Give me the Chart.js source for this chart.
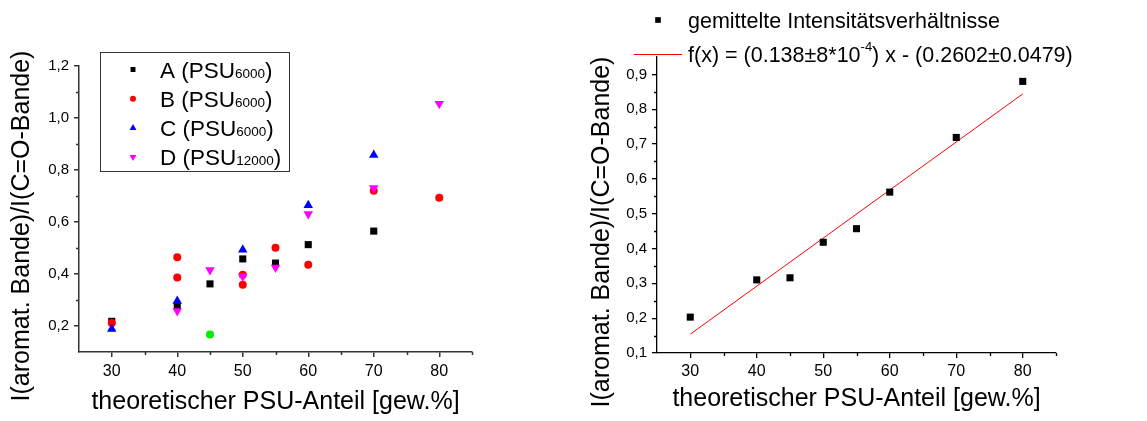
<!DOCTYPE html>
<html>
<head>
<meta charset="utf-8">
<script src="https://cdn.jsdelivr.net/npm/chart.js@4.4.1/dist/chart.umd.min.js"></script>
<style>
  html, body { margin: 0; padding: 0; background: #fff; }
  #wrap { position: relative; width: 1147px; height: 421px; }
  canvas { position: absolute; top: 0; }
  #chartLeft { left: 0; }
  #chartRight { left: 560px; }
</style>
</head>
<body>
<div id="wrap">
  <canvas id="chartLeft" width="560" height="421"></canvas>
  <canvas id="chartRight" width="587" height="421"></canvas>
</div>
<script>
const FONT = '"Liberation Sans", Arial, sans-serif';

// Achsen
const xTicks = [30, 40, 50, 60, 70, 80];
const xMinor = [35, 45, 55, 65, 75, 85];
const yTicksLeft = [0.2, 0.4, 0.6, 0.8, 1.0, 1.2];
const yMinorLeft = [0.3, 0.5, 0.7, 0.9, 1.1];
const yTicksRight = [0.1, 0.2, 0.3, 0.4, 0.5, 0.6, 0.7, 0.8, 0.9];
const yMinorRight = [0.15, 0.25, 0.35, 0.45, 0.55, 0.65, 0.75, 0.85];

const xTitle = 'theoretischer PSU-Anteil [gew.%]';
const yTitle = 'I(aromat. Bande)/I(C=O-Bande)';

// Linkes Diagramm: Einzelwerte
const seriesNames = ['A', 'B', 'C', 'D'];
const seriesSub = ['6000', '6000', '6000', '12000'];

const xA = [30, 40, 45, 50, 55, 60, 70];
const yA = [0.218, 0.278, 0.362, 0.458, 0.442, 0.513, 0.565];
const xB = [30, 40, 40, 50, 50, 55, 60, 70, 80];
const yB = [0.212, 0.464, 0.387, 0.397, 0.359, 0.501, 0.436, 0.720, 0.693];
const xC = [30, 40, 50, 60, 70];
const yC = [0.188, 0.296, 0.493, 0.664, 0.858];
const xD = [40, 45, 50, 55, 60, 70, 80];
const yD = [0.258, 0.415, 0.390, 0.425, 0.631, 0.731, 1.055];
const xExtra = [45];
const yExtra = [0.167];

// Rechtes Diagramm: Mittelwerte + Fit
const xMean = [30, 40, 45, 50, 55, 60, 70, 80];
const yMean = [0.203, 0.310, 0.316, 0.418, 0.457, 0.562, 0.719, 0.880];
const xFit = [30, 80];
const yFit = [0.154, 0.844];

const meanLabel = 'gemittelte Intensitätsverhältnisse';
const fitParts = ['f(x) = (0.138±8*10', '-4', ') x - (0.2602±0.0479)'];

const pts = (xs, ys) => xs.map((x, i) => ({ x: x, y: ys[i] }));
const comma = v => Number(v).toFixed(1).replace('.', ',');

// kleine Zwischenstriche an den Achsen
const minorTicks = {
  id: 'minorTicks',
  afterDraw(chart, args, o) {
    const { ctx, scales: { x, y } } = chart;
    ctx.save();
    ctx.strokeStyle = o.color;
    ctx.lineWidth = o.width;
    ctx.beginPath();
    o.x.forEach(v => {
      const px = Math.round(x.getPixelForValue(v)) + 0.5;
      ctx.moveTo(px, y.bottom);
      ctx.lineTo(px, y.bottom + o.len);
    });
    o.y.forEach(v => {
      const py = Math.round(y.getPixelForValue(v)) + 0.5;
      ctx.moveTo(x.left, py);
      ctx.lineTo(x.left - o.len, py);
    });
    ctx.stroke();
    ctx.restore();
  }
};

// Achsentitel
const axisTitles = {
  id: 'axisTitles',
  afterDraw(chart, args, o) {
    const { ctx, chartArea: a } = chart;
    ctx.save();
    ctx.fillStyle = '#000';
    ctx.font = o.size + 'px ' + FONT;
    ctx.textAlign = 'center';
    ctx.textBaseline = 'middle';
    ctx.fillText(xTitle, (a.left + a.right) / 2, o.xPos);
    ctx.translate(o.yPos, o.yCenter);
    ctx.rotate(-Math.PI / 2);
    ctx.fillText(yTitle, 0, 0);
    ctx.restore();
  }
};

function drawParts(ctx, parts, x, y) {
  parts.forEach(p => {
    ctx.font = p.size + 'px ' + FONT;
    ctx.fillText(p.t, x, y + (p.dy || 0));
    x += ctx.measureText(p.t).width;
  });
}

function drawMarker(ctx, ds, r, x, y) {
  ctx.fillStyle = ds.backgroundColor;
  Chart.helpers.drawPoint(ctx, {
    pointStyle: ds.pointStyle, rotation: ds.rotation || 0, radius: r, borderWidth: 0
  }, x, y);
}

// Legende links (mit Index)
const legendLeft = {
  id: 'legendLeft',
  afterDraw(chart, args, o) {
    const ctx = chart.ctx;
    ctx.save();
    ctx.strokeStyle = '#333';
    ctx.lineWidth = 1;
    ctx.strokeRect(o.left + 0.5, o.top + 0.5, o.width, o.height);
    seriesNames.forEach((name, i) => {
      const cy = o.top + o.first + i * o.step;
      const ds = chart.data.datasets[i];
      drawMarker(ctx, ds, o.marker[i], o.left + o.markerX, cy);
      ctx.fillStyle = '#000';
      ctx.textAlign = 'left';
      ctx.textBaseline = 'alphabetic';
      drawParts(ctx, [
        { t: name + ' (PSU', size: o.size },
        { t: seriesSub[i], size: o.subSize },
        { t: ')', size: o.size }
      ], o.left + o.textX, cy + o.base);
    });
    ctx.restore();
  }
};

// Legende rechts
const legendRight = {
  id: 'legendRight',
  afterDraw(chart, args, o) {
    const ctx = chart.ctx;
    ctx.save();
    drawMarker(ctx, chart.data.datasets[0], 4, o.markerX, o.row1);
    ctx.strokeStyle = chart.data.datasets[1].borderColor;
    ctx.lineWidth = 1;
    ctx.beginPath();
    ctx.moveTo(o.lineFrom, o.row2 + 0.5);
    ctx.lineTo(o.lineTo, o.row2 + 0.5);
    ctx.stroke();
    ctx.fillStyle = '#000';
    ctx.textAlign = 'left';
    ctx.textBaseline = 'alphabetic';
    drawParts(ctx, [{ t: meanLabel, size: o.size }], o.textX, o.row1 + o.base);
    drawParts(ctx, [
      { t: fitParts[0], size: o.size },
      { t: fitParts[1], size: o.supSize, dy: -11 },
      { t: fitParts[2], size: o.size }
    ], o.textX, o.row2 + o.base);
    ctx.restore();
  }
};

function xScale(color, width, pad, height) {
  return {
    type: 'linear', min: 25, max: 85,
    afterBuildTicks: s => { s.ticks = xTicks.map(v => ({ value: v })); },
    afterFit: s => { s.height = height; },
    grid: { drawOnChartArea: false, drawTicks: true, tickLength: 5, color: color, lineWidth: width },
    border: { display: true, color: color, width: width },
    ticks: { color: '#000', font: { family: FONT, size: 16 }, padding: pad, maxRotation: 0, autoSkip: false }
  };
}

function yScale(min, max, ticks, color, width, w, size) {
  return {
    type: 'linear', min: min, max: max,
    afterBuildTicks: s => { s.ticks = ticks.map(v => ({ value: v })); },
    afterFit: s => { s.width = w; },
    grid: { drawOnChartArea: false, drawTicks: true, tickLength: 5, color: color, lineWidth: width },
    border: { display: true, color: color, width: width },
    ticks: { color: '#000', font: { family: FONT, size: size }, padding: 5, autoSkip: false, callback: comma }
  };
}

const leftAxis = '#333';

new Chart(document.getElementById('chartLeft'), {
  type: 'scatter',
  data: {
    datasets: [
      { data: pts(xA, yA), backgroundColor: '#000000', pointStyle: 'rect', pointRadius: 5, order: 5 },
      { data: pts(xB, yB), backgroundColor: '#ff0000', pointStyle: 'circle', pointRadius: 4, order: 4 },
      { data: pts(xC, yC), backgroundColor: '#0000ff', pointStyle: 'triangle', pointRadius: 5.5, order: 3 },
      { data: pts(xD, yD), backgroundColor: '#ff00ff', pointStyle: 'triangle', rotation: 180, pointRadius: 5.5, order: 2 },
      { data: pts(xExtra, yExtra), backgroundColor: '#00ee00', pointStyle: 'circle', pointRadius: 4, order: 1 }
    ].map(d => Object.assign({ pointBorderWidth: 0, pointRotation: d.rotation || 0 }, d))
  },
  options: {
    responsive: false,
    animation: false,
    layout: { padding: { left: 0, top: 66, right: 88, bottom: 0 } },
    scales: {
      x: xScale(leftAxis, 1.5, 5, 69),
      y: yScale(0.1, 1.2, yTicksLeft, leftAxis, 1.5, 79, 15)
    },
    plugins: {
      legend: { display: false },
      tooltip: { enabled: false },
      minorTicks: { x: xMinor, y: yMinorLeft, len: 3, color: leftAxis, width: 1.5 },
      axisTitles: { size: 25, xPos: 402, yPos: 22, yCenter: 226 },
      legendLeft: {
        left: 100, top: 52, width: 189, height: 119, first: 17.5, step: 29.2,
        markerX: 33, textX: 60, base: 8, size: 22.5, subSize: 13.5, marker: [3.5, 3, 4, 4]
      }
    }
  },
  plugins: [minorTicks, axisTitles, legendLeft]
});

new Chart(document.getElementById('chartRight'), {
  type: 'scatter',
  data: {
    datasets: [
      { data: pts(xMean, yMean), backgroundColor: '#000000', pointStyle: 'rect', pointRadius: 5, pointBorderWidth: 0, order: 1 },
      { type: 'line', data: pts(xFit, yFit), borderColor: '#ff0000', borderWidth: 1, pointRadius: 0, showLine: true, fill: false, order: 2 }
    ]
  },
  options: {
    responsive: false,
    animation: false,
    layout: { padding: { left: 0, top: 57, right: 91, bottom: 0 } },
    scales: {
      x: xScale('#000', 1.3, 4, 68),
      y: yScale(0.1, 0.95, yTicksRight, '#000', 1.3, 97, 15)
    },
    plugins: {
      legend: { display: false },
      tooltip: { enabled: false },
      minorTicks: { x: xMinor, y: yMinorRight, len: 3, color: '#000', width: 1.3 },
      axisTitles: { size: 25, xPos: 399, yPos: 42, yCenter: 232 },
      legendRight: {
        markerX: 98, row1: 20, row2: 54, lineFrom: 74, lineTo: 122, textX: 128, base: 7.5, size: 21.5, supSize: 13
      }
    }
  },
  plugins: [minorTicks, axisTitles, legendRight]
});
</script>
</body>
</html>
